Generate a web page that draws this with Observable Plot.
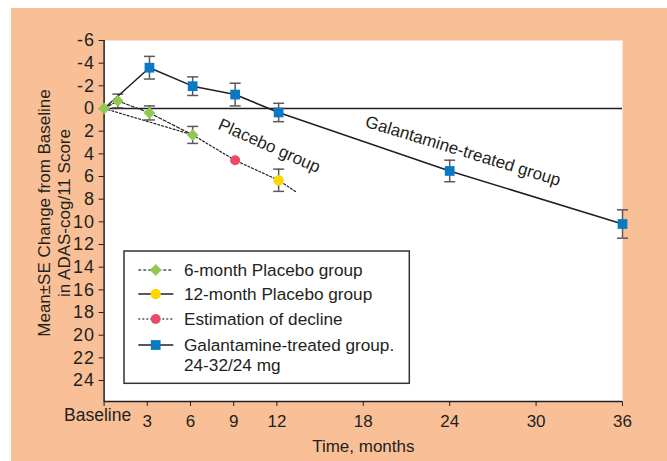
<!DOCTYPE html>
<html>
<head>
<meta charset="utf-8">
<script src="https://cdn.jsdelivr.net/npm/d3@7"></script>
<script src="https://cdn.jsdelivr.net/npm/@observablehq/plot@0.6"></script>
<style>
  html, body { margin: 0; padding: 0; background: #ffffff; }
  #wrap { position: relative; width: 667px; height: 461px; overflow: hidden; background: #ffffff; }
  #bg { position: absolute; left: 11px; top: 8px; width: 656px; height: 453px; background: #F9BF97; }
  #chart { position: absolute; left: 0; top: 0; }
  #legend { position: absolute; left: 123px; top: 250px; }
  #chart [aria-label="y-axis"] text,
  #chart [aria-label="y-axis tick label"] text { letter-spacing: 1px; font-size: 18px; }
</style>
</head>
<body>
<div id="wrap">
  <div id="bg"></div>
  <div id="chart"></div>
  <svg id="legend" width="289" height="136"></svg>
</div>
<script>
// ---------- data ----------
const xTicks = [0, 3, 6, 9, 12, 18, 24, 30, 36];
const xTickLabels = ["Baseline", "3", "6", "9", "12", "18", "24", "30", "36"];
const yTicks = [-6, -4, -2, 0, 2, 4, 6, 8, 10, 12, 14, 16, 18, 20, 22, 24];
const xDomain = [0, 36];
const yDomain = [-6, 25.85];
const xTitle = "Time, months";
const yTitleLines = ["Mean±SE Change from Baseline", "in ADAS-cog/11 Score"];

// Galantamine-treated group (24-32/24 mg)
const galMonths = [0, 3.15, 6.15, 9.1, 12.12, 24, 36];
const galChange = [0, -3.6, -1.97, -1.23, 0.35, 5.51, 10.19];
const galSE     = [0, 1.0, 0.82, 1.0, 0.81, 0.95, 1.25];

// 6-month placebo group
const pl6Months = [0, 0.95, 3.15, 6.15];
const pl6Change = [0, -0.67, 0.39, 2.33];
const pl6SE     = [0, 0.6, 0.62, 0.75];

// 12-month placebo group
const pl12Months = [12.12];
const pl12Change = [6.33];
const pl12SE     = [0.98];

// Estimation of decline
const estMonths = [9.1];
const estChange = [4.57];
const estLineMonths = [0, 6.15, 9.1, 12.12, 13.34];
const estLineChange = [0, 2.33, 4.57, 6.33, 7.37];

// in-plot annotations
const annotations = [
  {label: "Placebo group", month: 11.47, change: 3.3, angle: 24},
  {label: "Galantamine-treated group", month: 24.93, change: 3.75, angle: 17}
];

const legendLabels = [
  ["6-month Placebo group"],
  ["12-month Placebo group"],
  ["Estimation of decline"],
  ["Galantamine-treated group.", "24-32/24 mg"]
];

// ---------- styles ----------
const ink = "#231f20";
const errColor = "#5a5a5c";
const cBlue = "#0a79c4", cGreen = "#92c851", cRed = "#ea4a6a", cYellow = "#fdd704";
const font = "'Liberation Sans', Arial, Helvetica, sans-serif";

const zip = (xs, ys, es) => xs.map((x, i) => ({x, y: ys[i], se: es ? es[i] : 0, i}));
const gal = zip(galMonths, galChange, galSE);
const pl6 = zip(pl6Months, pl6Change, pl6SE);
const pl12 = zip(pl12Months, pl12Change, pl12SE);
const est = zip(estMonths, estChange);
const estLine = zip(estLineMonths, estLineChange);
const errRows = [...gal, ...pl6, ...pl12].filter(d => d.se > 0);

const cap = {draw(ctx) { ctx.moveTo(-5.5, 0); ctx.lineTo(5.5, 0); }};

const chart = Plot.plot({
  width: 667,
  height: 461,
  marginLeft: 103.6,
  marginRight: 45,
  marginTop: 40,
  marginBottom: 60,
  style: {background: "transparent", fontFamily: font, fontSize: "17px", color: ink},
  x: {domain: xDomain, ticks: xTicks, tickFormat: d => d === xTicks[0] ? "" : xTickLabels[xTicks.indexOf(d)], tickSize: 5, tickPadding: 8, label: null},
  y: {domain: yDomain, reverse: true, ticks: yTicks, tickFormat: d => String(d), tickSize: 5, tickPadding: 4, label: null},
  marks: [
    Plot.frame({fill: "white", stroke: "none"}),
    Plot.ruleY([0], {stroke: ink, strokeWidth: 1.5}),
    Plot.ruleX([xDomain[0]], {stroke: ink, strokeWidth: 1.5}),
    Plot.ruleY([yDomain[1]], {stroke: ink, strokeWidth: 1.5}),
    // error bars
    Plot.ruleX(errRows, {x: "x", y1: d => d.y - d.se, y2: d => d.y + d.se, stroke: errColor, strokeWidth: 1.5}),
    Plot.dot(errRows, {x: "x", y: d => d.y - d.se, symbol: cap, r: 3, stroke: errColor, strokeWidth: 1.5}),
    Plot.dot(errRows, {x: "x", y: d => d.y + d.se, symbol: cap, r: 3, stroke: errColor, strokeWidth: 1.5}),
    // lines
    Plot.line(estLine, {x: "x", y: "y", stroke: ink, strokeWidth: 1.2, strokeDasharray: "2,2"}),
    Plot.line(pl6, {x: "x", y: "y", stroke: ink, strokeWidth: 1.2, strokeDasharray: "3,2"}),
    Plot.line(gal, {x: "x", y: "y", stroke: ink, strokeWidth: 1.5}),
    // markers
    Plot.dot(pl6, {x: "x", y: "y", symbol: "diamond2", r: 5.3, fill: cGreen}),
    Plot.dot(est, {x: "x", y: "y", r: 5, fill: cRed}),
    Plot.dot(pl12, {x: "x", y: "y", r: 5.2, fill: cYellow}),
    Plot.dot(gal.filter(d => d.i > 0), {x: "x", y: "y", symbol: "square", r: 5.5, fill: cBlue}),
    // annotations
    Plot.text(annotations, {x: "month", y: "change", text: "label", rotate: "angle", fontSize: 17, fill: ink}),
    // Baseline tick label
    Plot.text([xTicks[0]], {x: d => d, frameAnchor: "bottom", text: () => xTickLabels[0], dy: 19, dx: -6.5, fontSize: 17.5, fill: ink}),
    // axis titles
    Plot.text([xTitle], {frameAnchor: "bottom", textAnchor: "middle", dy: 50, fontSize: 17, fill: ink}),
    Plot.text([yTitleLines.join("\n")], {frameAnchor: "left", textAnchor: "middle", lineAnchor: "middle", rotate: -90, dx: -50.4, dy: -8, lineHeight: 1.135, fontSize: 17, fill: ink})
  ]
});
document.getElementById("chart").append(chart);

// ---------- legend ----------
const lg = d3.select("#legend");
lg.append("rect").attr("x", 1).attr("y", 1).attr("width", 285.3).attr("height", 132.3)
  .attr("fill", "white").attr("stroke", "#333").attr("stroke-width", 1.5);
const rowY = [20, 44, 69, 95];
const legendStyle = [
  {dash: "3,2", sym: d3.symbolDiamond2, size: Math.PI * 5.3 * 5.3, color: cGreen},
  {dash: null, sym: d3.symbolCircle, size: Math.PI * 5.2 * 5.2, color: cYellow},
  {dash: "2,2", sym: d3.symbolCircle, size: Math.PI * 5 * 5, color: cRed},
  {dash: null, sym: d3.symbolSquare, size: Math.PI * 5.5 * 5.5, color: cBlue}
];
legendLabels.forEach((lines, i) => {
  const y = rowY[i], st = legendStyle[i];
  lg.append("line").attr("x1", 15.3).attr("x2", 50.3).attr("y1", y).attr("y2", y)
    .attr("stroke", i % 2 ? ink : "#555").attr("stroke-width", 1.3)
    .attr("stroke-dasharray", st.dash);
  lg.append("path").attr("d", d3.symbol(st.sym, st.size)()).attr("transform", `translate(32.7,${y})`)
    .attr("fill", st.color);
  lines.forEach((t, j) => {
    lg.append("text").attr("x", 61).attr("y", y + j * 20).attr("dy", "0.35em")
      .attr("font-family", font).attr("font-size", 17.2).attr("fill", ink).text(t);
  });
});
</script>
</body>
</html>
